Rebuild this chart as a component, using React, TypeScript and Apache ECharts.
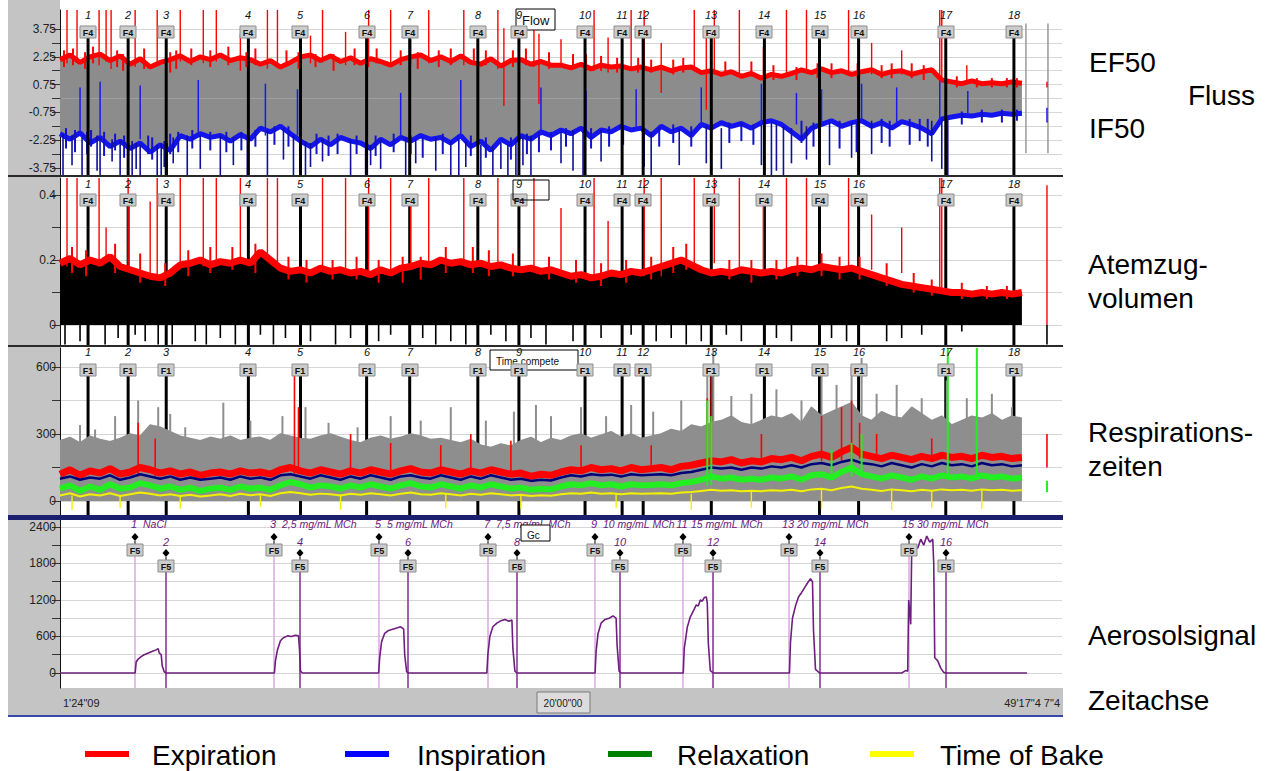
import { useEffect, useRef } from "react";
import * as echarts from "echarts";

const FONT = '"Liberation Sans", Arial, Helvetica, sans-serif';
const SAMPLE_STEP = 10; // one stored value every 10 breath units
const X_MAX = 1000;

// ---------- Fluss: EF50 / IF50 (l/s) ----------
const ef50 = [
  2.1, 2.35, 1.95, 2.25, 2.4, 2.05, 2.3, 1.85, 2.15, 1.7,
  1.95, 2.1, 2.3, 2.0, 2.25, 2.1, 2.35, 2.05, 2.2, 2.1,
  1.85, 2.05, 1.7, 1.95, 2.25, 2.35, 2.05, 2.3, 2.0, 2.2,
  1.9, 2.15, 2.0, 1.8, 2.1, 2.25, 2.35, 2.05, 2.25, 2.0,
  2.3, 1.95, 1.85, 2.15, 1.75, 2.05, 2.1, 1.85, 2.0, 1.8,
  1.8, 1.65, 1.85, 1.6, 1.8, 1.7, 1.75, 1.6, 1.7, 1.55,
  1.7, 1.5, 1.65, 1.7, 1.4, 1.5, 1.3, 1.45, 1.2, 1.35,
  1.1, 1.3, 1.2, 1.35, 1.55, 1.4, 1.6, 1.4, 1.5, 1.3,
  1.45, 1.55, 1.3, 1.45, 1.5, 1.3, 1.45, 1.55, 1.0, 0.9,
  0.8, 0.95, 0.8, 0.85, 0.8, 0.9, 0.82,
];
const if50 = [
  -1.9, -2.2, -1.85, -2.4, -2.1, -2.6, -2.3, -2.7, -2.4, -2.9,
  -2.5, -2.8, -2.0, -2.2, -1.9, -2.1, -2.0, -2.3, -1.95, -2.2,
  -1.6, -1.8, -1.5, -1.9, -2.3, -2.6, -2.2, -2.5, -2.1, -2.3,
  -2.4, -2.7, -2.2, -2.5, -2.1, -2.3, -2.0, -2.2, -2.1, -2.4,
  -2.0, -2.6, -2.3, -2.8, -2.2, -2.5, -2.0, -2.2, -1.8, -2.0,
  -1.7, -1.9, -1.6, -2.1, -1.7, -1.8, -1.5, -1.7, -1.6, -2.0,
  -1.5, -1.8, -1.6, -2.0, -1.4, -1.6, -1.3, -1.5, -1.35, -1.6,
  -1.3, -1.2, -1.4, -1.8, -2.2, -1.6, -1.4, -1.2, -1.5, -1.3,
  -1.2, -1.5, -1.3, -1.6, -1.25, -1.4, -1.6, -1.9, -1.1, -1.0,
  -0.9, -0.95, -0.85, -0.9, -0.8, -0.85, -0.8,
];
// [position, from, to]
const ef50Spikes = [
  [7, 1.9, 4.8], [17, 2.0, 4.8], [39, 1.8, 4.8], [46, 2.0, 4.8], [51, 1.6, 4.8], [68, -0.9, 3.8], [75, 1.7, 4.8],
  [97, 1.8, 4.8], [120, 2.0, 4.8], [143, 1.9, 4.8], [156, 2.0, 4.8], [180, 1.5, 3.5], [207, 1.6, 4.8], [217, 1.8, 4.8],
  [250, 1.9, 3.4], [262, 2.0, 4.8], [285, 1.8, 3.6], [308, 1.7, 4.8], [330, 1.9, 4.8], [350, 1.8, 3.2], [368, 1.9, 4.8],
  [403, 1.8, 4.8], [437, 1.6, 4.8], [443, -0.4, 3.8], [473, 1.7, 4.8], [478, -0.3, 3.5], [500, 1.7, 3.2], [533, 1.5, 4.8],
  [547, 1.4, 3.3], [570, 1.5, 4.8], [583, 1.5, 4.8], [600, 0.3, 3.0], [633, 1.5, 4.8], [645, -0.6, 3.5], [653, 1.3, 4.8],
  [678, 1.2, 4.8], [702, 1.2, 2.8], [725, 1.3, 4.8], [745, 1.4, 4.8], [787, 1.3, 4.8], [810, 1.3, 3.0], [840, 1.3, 2.6],
  [878, 0.9, 4.8], [880, 1.0, 4.8], [905, 0.8, 1.8], [985, 0.6, 0.9],
];
const ef50Flutter = [
  [4, 1.7, 2.6], [13, 1.8, 2.7], [25, 1.6, 2.5], [33, 1.9, 2.8], [57, 1.7, 2.6], [63, 1.5, 2.4], [84, 1.6, 2.7],
  [110, 1.4, 2.5], [116, 1.6, 2.6], [131, 1.8, 2.7], [150, 1.7, 2.6], [168, 1.8, 2.8], [186, 1.7, 2.5], [195, 1.8, 2.7],
  [226, 1.9, 2.6], [238, 1.6, 2.5], [255, 1.7, 2.4], [273, 1.5, 2.4], [294, 1.8, 2.7], [316, 1.9, 2.7], [340, 1.8, 2.6],
  [357, 1.6, 2.5], [378, 1.7, 2.6], [390, 1.8, 2.7], [413, 1.9, 2.7], [425, 1.8, 2.6], [452, 1.7, 2.6], [465, 1.8, 2.7],
  [488, 1.6, 2.5], [512, 1.6, 2.4], [525, 1.5, 2.4], [540, 1.5, 2.3], [556, 1.4, 2.2], [577, 1.4, 2.2], [590, 1.4, 2.1],
  [612, 1.3, 2.1], [622, 1.4, 2.2], [664, 1.3, 2.0], [690, 1.2, 2.0], [712, 1.0, 1.8], [735, 1.0, 1.7], [756, 1.1, 1.9],
  [770, 1.1, 1.9], [796, 1.1, 1.9], [820, 1.1, 1.8], [830, 1.1, 1.9], [850, 1.1, 1.9], [862, 1.0, 1.8], [895, 0.6, 1.2],
  [915, 0.6, 1.1], [930, 0.6, 1.1], [945, 0.6, 1.1], [955, 0.6, 1.1],
];
const if50Dips = [
  [3, -4.2, -1.9], [12, -3.6, -2.0], [22, -4.2, -2.1], [37, -3.9, -2.0], [40, -4.2, -2.1], [52, -3.4, -2.2], [60, -4.2, -2.3],
  [68, -4.2, -2.4], [72, -4.2, -2.3], [76, -3.8, -2.4], [80, -4.2, -2.5], [97, -4.2, -2.5], [101, -4.2, -2.4], [104, -3.7, -2.3],
  [107, -4.2, -2.4], [113, -3.5, -2.1], [127, -4.2, -2.0], [140, -3.8, -2.0], [160, -4.2, -2.0], [173, -3.6, -2.1],
  [187, -4.2, -2.0], [207, -4.2, -1.7], [223, -3.3, -1.6], [233, -4.2, -2.0], [245, -4.2, -2.3], [250, -3.7, -2.4],
  [262, -3.4, -2.2], [290, -4.2, -2.2], [305, -4.2, -2.4], [310, -3.6, -2.5], [320, -3.8, -2.2], [345, -4.2, -2.1],
  [355, -3.5, -2.2], [375, -3.9, -2.1], [390, -4.2, -2.3], [398, -4.2, -2.2], [405, -3.7, -2.3], [420, -4.2, -2.5],
  [432, -4.2, -2.6], [440, -3.8, -2.4], [447, -4.2, -2.5], [455, -4.2, -2.2], [462, -3.6, -2.1], [470, -4.2, -2.0],
  [500, -3.5, -1.8], [512, -3.9, -1.7], [522, -4.2, -1.8], [540, -3.4, -1.7], [583, -3.7, -1.6], [590, -4.2, -1.8],
  [618, -3.6, -1.6], [645, -3.5, -1.5], [650, -4.2, -1.6], [660, -3.8, -1.6], [700, -3.6, -1.4], [710, -4.2, -1.3],
  [715, -3.9, -1.4], [722, -4.2, -1.5], [730, -3.5, -1.6], [745, -3.3, -1.5], [758, -4.2, -1.4], [768, -3.6, -1.3],
  [790, -3.2, -1.3], [810, -3.0, -1.2], [870, -3.4, -1.2], [880, -3.8, -1.1], [886, -4.2, -1.1],
];
const if50Flutter = [
  [6, -2.7, -1.6], [15, -2.9, -1.7], [27, -3.0, -1.8], [31, -2.6, -1.7], [44, -3.1, -1.8], [55, -2.8, -1.9], [64, -3.2, -2.0],
  [88, -3.0, -2.0], [92, -3.3, -2.1], [110, -3.0, -1.9], [118, -2.9, -1.8], [132, -2.7, -1.7], [150, -2.8, -1.8],
  [166, -2.9, -1.8], [181, -2.8, -1.8], [195, -2.6, -1.7], [214, -2.5, -1.5], [228, -2.6, -1.5], [256, -3.0, -1.9],
  [268, -3.1, -2.0], [277, -3.0, -1.9], [296, -3.0, -2.0], [315, -3.1, -2.0], [333, -2.9, -1.9], [350, -3.0, -2.0],
  [362, -3.2, -2.1], [382, -3.0, -1.9], [410, -3.1, -2.0], [425, -3.2, -2.1], [450, -3.3, -2.1], [466, -3.0, -1.9],
  [478, -2.9, -1.8], [490, -2.8, -1.8], [505, -2.6, -1.6], [530, -2.7, -1.6], [548, -2.6, -1.5], [562, -2.5, -1.5],
  [598, -2.6, -1.5], [612, -2.4, -1.4], [630, -2.6, -1.5], [668, -2.4, -1.3], [680, -2.3, -1.3], [692, -2.5, -1.4],
  [740, -2.4, -1.2], [752, -2.6, -1.3], [778, -2.7, -1.2], [795, -2.9, -1.2], [820, -2.4, -1.1], [828, -2.6, -1.2],
  [848, -2.5, -1.1], [858, -2.3, -1.1], [866, -2.6, -1.1], [900, -1.4, -0.7], [920, -1.3, -0.6], [940, -1.3, -0.6],
  [955, -1.2, -0.6],
];
const if50Peaks = [
  [20, -2.0, 0.6], [40, -2.0, 0.9], [80, -2.2, 0.7], [138, -2.0, 1.0], [205, -2.0, 0.8], [237, -2.0, 0.5],
  [340, -2.0, 0.3], [400, -2.0, 1.0], [480, -2.0, 0.6], [525, -1.8, 0.4], [575, -1.7, 0.5], [640, -1.6, 0.6],
  [700, -1.5, 0.8], [735, -1.4, 0.3], [760, -1.4, 0.5], [800, -1.3, 0.8], [835, -1.3, 0.6], [878, -1.2, 1.0],
  [906, -1.0, 0.4], [985, -1.3, -0.5],
];
const flowCursors = [[964, -2.95, 4.05], [986, -2.95, 4.05]];

// ---------- Atemzugvolumen (l) ----------
const tidalVolume = [
  0.19, 0.205, 0.185, 0.2, 0.19, 0.21, 0.18, 0.17, 0.16, 0.15,
  0.145, 0.16, 0.185, 0.19, 0.2, 0.185, 0.195, 0.19, 0.2, 0.19,
  0.225, 0.2, 0.175, 0.165, 0.17, 0.16, 0.175, 0.165, 0.17, 0.16,
  0.165, 0.155, 0.17, 0.16, 0.175, 0.18, 0.19, 0.185, 0.2, 0.19,
  0.195, 0.185, 0.19, 0.18, 0.185, 0.175, 0.17, 0.175, 0.165, 0.17,
  0.16, 0.15, 0.155, 0.145, 0.15, 0.16, 0.155, 0.165, 0.16, 0.17,
  0.18, 0.19, 0.2, 0.185, 0.17, 0.16, 0.165, 0.16, 0.17, 0.165,
  0.16, 0.165, 0.16, 0.17, 0.175, 0.17, 0.18, 0.175, 0.17, 0.175,
  0.165, 0.155, 0.145, 0.135, 0.125, 0.12, 0.115, 0.11, 0.105, 0.1,
  0.1, 0.095, 0.1, 0.095, 0.1, 0.095, 0.1,
];
const tidalSpikes = [
  [7, 0.18, 0.46], [17, 0.19, 0.46], [39, 0.18, 0.46], [46, 0.19, 0.3], [68, 0.17, 0.46], [90, 0.15, 0.38],
  [97, 0.15, 0.46], [120, 0.18, 0.46], [143, 0.18, 0.46], [156, 0.19, 0.46], [180, 0.19, 0.46], [207, 0.2, 0.46],
  [217, 0.19, 0.46], [262, 0.17, 0.46], [285, 0.16, 0.46], [308, 0.16, 0.46], [330, 0.16, 0.46], [350, 0.17, 0.38],
  [368, 0.18, 0.46], [403, 0.19, 0.46], [437, 0.19, 0.46], [473, 0.17, 0.46], [500, 0.17, 0.36], [533, 0.15, 0.46],
  [547, 0.15, 0.32], [583, 0.15, 0.46], [600, 0.15, 0.46], [633, 0.18, 0.46], [653, 0.19, 0.46], [678, 0.17, 0.46],
  [702, 0.16, 0.38], [725, 0.16, 0.46], [745, 0.17, 0.46], [787, 0.17, 0.46], [810, 0.17, 0.34], [840, 0.16, 0.3],
  [878, 0.11, 0.46], [880, 0.11, 0.46], [985, 0.0, 0.43],
];
const tidalFlutter = [
  [12, 0.16, 0.24], [26, 0.15, 0.23], [55, 0.16, 0.25], [80, 0.13, 0.22], [105, 0.12, 0.19], [128, 0.15, 0.23],
  [150, 0.16, 0.24], [172, 0.17, 0.24], [195, 0.16, 0.25], [228, 0.14, 0.21], [246, 0.13, 0.2], [272, 0.14, 0.2],
  [296, 0.14, 0.21], [318, 0.13, 0.2], [342, 0.13, 0.21], [360, 0.14, 0.21], [385, 0.16, 0.24], [412, 0.16, 0.24],
  [428, 0.15, 0.23], [452, 0.15, 0.22], [488, 0.14, 0.21], [515, 0.13, 0.2], [540, 0.12, 0.19], [565, 0.13, 0.2],
  [590, 0.14, 0.21], [612, 0.16, 0.24], [625, 0.17, 0.25], [668, 0.14, 0.2], [690, 0.13, 0.2], [715, 0.14, 0.2],
  [736, 0.15, 0.21], [760, 0.15, 0.22], [778, 0.14, 0.21], [798, 0.14, 0.21], [825, 0.12, 0.19], [852, 0.1, 0.16],
  [870, 0.09, 0.14], [900, 0.08, 0.13], [925, 0.08, 0.12], [945, 0.08, 0.12],
];
const tidalDips = [
  [5, -0.06, 0], [20, -0.05, 0], [28, -0.06, 0], [45, -0.06, 0], [58, -0.04, 0], [75, -0.03, 0], [85, -0.05, 0],
  [98, -0.06, 0], [112, -0.06, 0], [135, -0.05, 0], [146, -0.06, 0], [160, -0.04, 0], [175, -0.06, 0], [200, -0.03, 0],
  [213, -0.06, 0], [225, -0.04, 0], [250, -0.05, 0], [275, -0.06, 0], [290, -0.04, 0], [318, -0.05, 0], [330, -0.03, 0],
  [362, -0.04, 0], [375, -0.06, 0], [390, -0.05, 0], [405, -0.06, 0], [430, -0.03, 0], [445, -0.05, 0], [470, -0.04, 0],
  [485, -0.06, 0], [512, -0.05, 0], [540, -0.04, 0], [570, -0.03, 0], [595, -0.05, 0], [610, -0.04, 0], [625, -0.06, 0],
  [640, -0.05, 0], [665, -0.03, 0], [680, -0.05, 0], [715, -0.04, 0], [730, -0.05, 0], [770, -0.04, 0], [785, -0.05, 0],
  [825, -0.05, 0], [840, -0.04, 0], [860, -0.03, 0], [900, -0.02, 0], [985, -0.06, 0],
];

// ---------- Respirationszeiten (ms) ----------
const totalTime = [
  270, 285, 260, 290, 275, 265, 280, 300, 290, 340,
  330, 310, 290, 280, 270, 285, 275, 290, 270, 280,
  285, 270, 300, 290, 280, 275, 290, 300, 285, 270,
  260, 280, 290, 275, 285, 300, 290, 275, 280, 270,
  260, 275, 250, 240, 255, 245, 270, 285, 260, 280,
  270, 290, 300, 280, 295, 310, 285, 300, 280, 290,
  300, 320, 310, 340, 330, 350, 360, 380, 350, 340,
  360, 380, 370, 390, 350, 420, 380, 400, 420, 440,
  380, 360, 400, 380, 370, 420, 390, 360, 380, 340,
  360, 380, 370, 390, 360, 380, 370,
];
const expirationTime = [
  120, 140, 115, 135, 125, 145, 120, 130, 150, 140,
  125, 135, 120, 130, 115, 125, 130, 120, 135, 125,
  130, 120, 140, 150, 135, 125, 140, 130, 120, 135,
  125, 140, 130, 120, 135, 145, 130, 125, 140, 130,
  120, 135, 125, 140, 130, 120, 125, 110, 120, 115,
  130, 140, 135, 150, 140, 145, 135, 150, 140, 145,
  150, 140, 155, 160, 170, 180, 175, 185, 170, 180,
  175, 190, 185, 195, 180, 200, 210, 195, 220, 240,
  210, 200, 190, 205, 195, 185, 200, 190, 205, 195,
  200, 190, 205, 195, 200, 190, 195,
];
const inspirationTime = [
  100, 110, 95, 105, 100, 115, 95, 105, 120, 110,
  100, 110, 95, 105, 95, 100, 105, 95, 110, 100,
  105, 95, 115, 120, 110, 100, 115, 105, 95, 110,
  100, 115, 105, 95, 110, 115, 105, 100, 115, 105,
  95, 110, 100, 115, 105, 95, 100, 90, 95, 92,
  105, 115, 110, 120, 115, 118, 110, 120, 115, 118,
  120, 115, 125, 130, 140, 150, 145, 150, 140, 150,
  145, 155, 150, 160, 150, 165, 170, 160, 175, 185,
  170, 165, 155, 170, 160, 150, 165, 155, 170, 160,
  165, 155, 170, 160, 165, 155, 160,
];
const relaxationTime = [
  55, 70, 45, 65, 50, 75, 55, 60, 80, 70,
  55, 65, 50, 60, 45, 55, 60, 50, 65, 55,
  60, 50, 70, 85, 75, 60, 70, 65, 55, 70,
  60, 75, 65, 55, 70, 80, 65, 60, 75, 65,
  55, 70, 60, 75, 65, 55, 60, 50, 55, 52,
  65, 75, 70, 80, 70, 75, 65, 75, 70, 72,
  75, 70, 80, 85, 95, 110, 100, 105, 95, 100,
  95, 105, 100, 110, 95, 115, 120, 105, 130, 150,
  120, 110, 100, 115, 105, 95, 110, 100, 115, 105,
  110, 100, 115, 105, 110, 100, 105,
];
const bakeTime = [
  25, 35, 20, 30, 25, 35, 22, 30, 38, 32,
  25, 30, 22, 28, 20, 25, 30, 22, 32, 26,
  30, 22, 35, 40, 35, 28, 33, 30, 25, 32,
  28, 35, 30, 25, 32, 38, 30, 28, 35, 30,
  25, 32, 28, 35, 30, 25, 28, 22, 26, 24,
  30, 35, 32, 38, 32, 35, 30, 35, 32, 34,
  35, 32, 38, 40, 45, 50, 46, 48, 44, 46,
  44, 48, 46, 50, 44, 52, 55, 48, 58, 65,
  55, 50, 45, 52, 48, 44, 50, 46, 52, 48,
  50, 46, 52, 48, 50, 46, 48,
];
const totalSpikes = [
  [20, 0, 340], [35, 0, 320], [55, 0, 380], [78, 0, 450], [98, 0, 420], [110, 0, 390], [125, 0, 330], [163, 0, 440],
  [190, 0, 360], [222, 0, 380], [245, 0, 420], [268, 0, 350], [297, 0, 330], [330, 0, 380], [360, 0, 360], [390, 0, 420],
  [425, 0, 360], [453, 0, 400], [475, 0, 430], [490, 0, 380], [520, 0, 420], [545, 0, 380], [570, 0, 430], [592, 0, 400],
  [620, 0, 450], [646, 0, 600], [652, 0, 690], [670, 0, 470], [690, 0, 480], [715, 0, 500], [740, 0, 450], [760, 0, 560],
  [775, 0, 520], [790, 0, 600], [800, 0, 640], [815, 0, 480], [835, 0, 520], [860, 0, 460], [885, 0, 540], [905, 0, 460],
  [930, 0, 480], [950, 0, 420],
];
const expirationSpikes = [
  [78, 110, 350], [95, 110, 280], [234, 120, 600], [238, 120, 420], [290, 120, 300], [330, 120, 260], [380, 120, 250],
  [410, 120, 300], [450, 110, 270], [520, 120, 250], [590, 130, 250], [646, 150, 460], [650, 150, 600], [700, 170, 300],
  [760, 180, 380], [780, 180, 420], [790, 190, 450], [798, 190, 350], [815, 180, 300], [870, 180, 280], [985, 150, 300],
];
const relaxationSpikes = [
  [646, 70, 450], [650, 70, 380], [770, 100, 230], [790, 110, 260], [800, 110, 300], [886, 100, 690], [915, 100, 690],
  [985, 40, 90],
];
const bakeSpikes = [
  [12, -40, 25], [60, -30, 22], [120, -35, 25], [200, -25, 26], [280, -40, 30], [385, -30, 30], [460, -35, 28],
  [555, -30, 32], [630, -40, 32], [690, -30, 44], [760, -35, 52], [830, -40, 50], [870, -30, 46], [920, -35, 50],
];

// ---------- Aerosolsignal ----------
const aerosolT = [
  0, 75, 76, 78, 81, 84, 87, 90, 93, 96, 98, 99, 101, 102, 104, 106,
  214, 215, 217, 220, 223, 227, 231, 235, 238, 239, 240, 242,
  318, 319, 321, 324, 328, 332, 336, 340, 343, 344, 346, 348,
  426, 427, 429, 432, 436, 440, 444, 448, 451, 452, 454, 456,
  534, 535, 537, 540, 544, 548, 552, 555, 556, 558, 560,
  622, 623, 626, 629, 633, 635, 637, 639, 641, 643, 645, 646, 647, 649, 652,
  728, 729, 731, 734, 737, 740, 743, 746, 749, 751, 752, 754, 758,
  840, 844, 846, 847, 849, 850, 853, 856, 859, 862, 865, 868, 871, 872, 873, 876, 879, 882, 884,
  965,
];
const aerosolV = [
  0, 0, 180, 230, 270, 300, 320, 340, 360, 380, 400, 330, 300, 120, 20, 0,
  0, 200, 380, 530, 580, 610, 600, 620, 610, 400, 30, 0,
  0, 250, 520, 650, 700, 720, 740, 760, 720, 300, 20, 0,
  0, 300, 600, 760, 820, 860, 880, 850, 870, 400, 30, 0,
  0, 350, 650, 820, 880, 900, 940, 900, 450, 30, 0,
  0, 400, 750, 920, 1050, 1120, 1100, 1200, 1180, 1240, 1250, 1150, 500, 40, 0,
  0, 500, 900, 1100, 1250, 1320, 1400, 1480, 1550, 1500, 700, 60, 0,
  0, 40, 30, 1200, 800, 2000, 2100, 2050, 2200, 2100, 2250, 2150, 2200, 1800, 250, 200, 80, 10, 0,
  0,
];

// ---------- Ereignismarken ----------
const breathMarkers = [28, 68, 106, 188, 240, 306, 349, 417, 458, 524, 561, 582, 650, 703, 758, 797, 884, 952];
const aerosolMarkers = [75, 106, 214, 240, 318, 347, 427, 456, 534, 559, 622, 652, 728, 758, 847, 884];
const doses = ["NaCl", "2,5 mg/mL MCh", "5 mg/mL MCh", "7,5 mg/mL MCh", "10 mg/mL MCh", "15 mg/mL MCh", "20 mg/mL MCh", "30 mg/mL MCh"];

// ---------- Achsen ----------
const flowTicks = [-3.75, -3, -2.25, -1.5, -0.75, 0, 0.75, 1.5, 2.25, 3, 3.75];
const flowLabels = [-3.75, -2.25, -0.75, 0.75, 2.25, 3.75];
const volumeTicks = [0, 0.1, 0.2, 0.3, 0.4];
const volumeLabels = [0, 0.2, 0.4];
const timeTicks = [0, 150, 300, 450, 600];
const timeLabels = [0, 300, 600];
const aerosolTicks = [0, 300, 600, 900, 1200, 1500, 1800, 2100, 2400];
const aerosolLabels = [0, 600, 1200, 1800, 2400];

const legendItems = [
  { name: "Expiration", color: "#ff0000" },
  { name: "Inspiration", color: "#0000ff" },
  { name: "Relaxation", color: "#008000" },
  { name: "Time of Bake", color: "#ffff00" },
];

const toXY = (values: number[]) => values.map((v, i) => [i * SAMPLE_STEP, v]);

const lineSeries = (name: string, values: number[], grid: number, color: string, width: number, z: number, area?: string) => ({
  type: "line",
  name,
  xAxisIndex: grid,
  yAxisIndex: grid,
  data: toXY(values),
  symbol: "none",
  showSymbol: false,
  silent: true,
  z,
  lineStyle: { color, width },
  itemStyle: { color },
  areaStyle: area ? { color: area, opacity: 1 } : undefined,
});

const spikeSeries = (data: number[][], grid: number, color: string, width: number, z: number) => ({
  type: "custom",
  xAxisIndex: grid,
  yAxisIndex: grid,
  data,
  encode: { x: 0, y: [1, 2] },
  silent: true,
  clip: true,
  z,
  renderItem: (_params: any, api: any) => {
    const a = api.coord([api.value(0), api.value(1)]);
    const b = api.coord([api.value(0), api.value(2)]);
    return {
      type: "line",
      shape: { x1: a[0], y1: a[1], x2: b[0], y2: b[1] },
      style: { stroke: color, lineWidth: width },
    };
  },
});

const markerLineSeries = (grid: number, z: number) => ({
  type: "custom",
  xAxisIndex: grid,
  yAxisIndex: grid,
  data: breathMarkers.map((x) => [x, 0]),
  encode: { x: 0, y: 1 },
  silent: true,
  z,
  renderItem: (params: any, api: any) => {
    const cs = params.coordSys;
    const x = api.coord([api.value(0), 0])[0];
    return {
      type: "line",
      shape: { x1: x, y1: cs.y + 28, x2: x, y2: cs.y + cs.height },
      style: { stroke: "#000", lineWidth: 3 },
    };
  },
});

const markerTagSeries = (grid: number, tag: string, numberY: number) => ({
  type: "custom",
  xAxisIndex: grid,
  yAxisIndex: grid,
  data: breathMarkers.map((x) => [x, 0]),
  encode: { x: 0, y: 1 },
  silent: true,
  z: 40,
  renderItem: (params: any, api: any) => {
    const cs = params.coordSys;
    const x = Math.round(api.coord([api.value(0), 0])[0]);
    const n = params.dataIndex + 1;
    return {
      type: "group",
      children: [
        {
          type: "text",
          style: { text: String(n), x, y: cs.y + numberY, align: "center", verticalAlign: "middle", fill: "#111", font: `italic 11px ${FONT}` },
        },
        {
          type: "rect",
          shape: { x: x - 8, y: cs.y + 16, width: 16, height: 12 },
          style: { fill: "#cccccc", stroke: "#8c8c8c", lineWidth: 1 },
        },
        {
          type: "text",
          style: { text: tag, x, y: cs.y + 22.5, align: "center", verticalAlign: "middle", fill: "#111", font: `bold 9px ${FONT}` },
        },
      ],
    };
  },
});

const aerosolMarkerSeries = (part: "line" | "tag") => ({
  type: "custom",
  xAxisIndex: 3,
  yAxisIndex: 3,
  data: aerosolMarkers.map((x) => [x, 0]),
  encode: { x: 0, y: 1 },
  silent: true,
  z: part === "line" ? 3 : 40,
  renderItem: (params: any, api: any) => {
    const cs = params.coordSys;
    const x = Math.round(api.coord([api.value(0), 0])[0]);
    const n = params.dataIndex + 1;
    const odd = n % 2 === 1;
    const dy = odd ? 0 : 16;
    const top = cs.y;
    if (part === "line") {
      return {
        type: "line",
        shape: { x1: x, y1: top + 35 + dy, x2: x, y2: top + cs.height },
        style: { stroke: odd ? "#d9a8e2" : "#7e2c8e", lineWidth: 1.5 },
      };
    }
    const children: any[] = [
      {
        type: "polygon",
        shape: { points: [[x, top + 13 + dy], [x + 3.5, top + 17 + dy], [x, top + 21 + dy], [x - 3.5, top + 17 + dy]] },
        style: { fill: "#000" },
      },
      { type: "line", shape: { x1: x, y1: top + 21 + dy, x2: x, y2: top + 24 + dy }, style: { stroke: "#000", lineWidth: 1 } },
      {
        type: "rect",
        shape: { x: x - 8, y: top + 24 + dy, width: 16, height: 12 },
        style: { fill: "#cccccc", stroke: "#8c8c8c", lineWidth: 1 },
      },
      {
        type: "text",
        style: { text: "F5", x, y: top + 30.5 + dy, align: "center", verticalAlign: "middle", fill: "#111", font: `bold 9px ${FONT}` },
      },
    ];
    if (odd) {
      children.push(
        {
          type: "text",
          style: { text: String(n), x: x - 1, y: top + 4, align: "center", verticalAlign: "middle", fill: "#6a1a7c", font: `italic 11px ${FONT}` },
        },
        {
          type: "text",
          style: { text: doses[(n - 1) / 2], x: x + 8, y: top + 4, align: "left", verticalAlign: "middle", fill: "#6a1a7c", font: `italic 10.5px ${FONT}` },
        },
      );
    } else {
      children.push({
        type: "text",
        style: { text: String(n), x, y: top + 22, align: "center", verticalAlign: "middle", fill: "#6a1a7c", font: `italic 11px ${FONT}` },
      });
    }
    return { type: "group", children };
  },
});

const yAxisFor = (gridIndex: number, min: number, max: number, ticks: number[], labels: number[]) => ({
  type: "value",
  gridIndex,
  min,
  max,
  axisLine: { show: true, lineStyle: { color: "#111", width: 1 } },
  axisTick: { show: true, length: 8, customValues: ticks, lineStyle: { color: "#333" } },
  axisLabel: {
    customValues: labels,
    color: "#222",
    fontSize: 12,
    fontFamily: FONT,
    margin: 4,
    formatter: (v: number) => String(v),
  },
  splitLine: { show: true, lineStyle: { color: "#d6d6d6", width: 1 } },
});

const xAxisFor = (gridIndex: number) => ({ type: "value", gridIndex, min: 0, max: X_MAX, show: false });

const rightLabel = (text: string, x: number, y: number) => ({
  type: "text",
  z: 60,
  style: { text, x, y, align: "left", verticalAlign: "middle", fill: "#000", font: `28px ${FONT}` },
});

const boxNote = (x: number, y: number, w: number, h: number, text: string, size: number, ty: number, z: number) => ({
  type: "group",
  z,
  children: [
    { type: "rect", z, shape: { x, y, width: w, height: h }, style: { fill: "#ffffff", stroke: "#000", lineWidth: 1 } },
    { type: "text", z, style: { text, x: x + 6, y: ty, align: "left", verticalAlign: "middle", fill: "#111", font: `${size}px ${FONT}` } },
  ],
});

function buildOption() {
  const legendX = [85, 345, 608, 870];
  const legendTextX = [152, 417, 677, 940];
  const graphic: any[] = [
    // frame
    { type: "rect", z: -5, shape: { x: 8, y: 0, width: 52, height: 716 }, style: { fill: "#c4c4c4" } },
    { type: "rect", z: -5, shape: { x: 8, y: 688, width: 1055, height: 27 }, style: { fill: "#c4c4c4" } },
    { type: "rect", z: 55, shape: { x: 8, y: 175, width: 1055, height: 2 }, style: { fill: "#2a2a2a" } },
    { type: "rect", z: 55, shape: { x: 8, y: 345, width: 1055, height: 2 }, style: { fill: "#2a2a2a" } },
    { type: "rect", z: 55, shape: { x: 8, y: 515, width: 1055, height: 5 }, style: { fill: "#1b1f6e" } },
    { type: "rect", z: 55, shape: { x: 8, y: 715, width: 1055, height: 2 }, style: { fill: "#3848a8" } },
    // time axis
    { type: "text", z: 60, style: { text: "1'24\"09", x: 63, y: 703, align: "left", verticalAlign: "middle", fill: "#222", font: `11px ${FONT}` } },
    { type: "rect", z: 58, shape: { x: 537, y: 692, width: 53, height: 21 }, style: { fill: "#dcdcdc", stroke: "#7a7a7a", lineWidth: 1 } },
    { type: "text", z: 60, style: { text: "20'00\"00", x: 563, y: 703, align: "center", verticalAlign: "middle", fill: "#222", font: `10px ${FONT}` } },
    { type: "text", z: 60, style: { text: "49'17\"4 7\"4", x: 1060, y: 703, align: "right", verticalAlign: "middle", fill: "#222", font: `11px ${FONT}` } },
    // notes
    boxNote(516, 9, 39, 21, "Flow", 13, 20, 35),
    { type: "rect", z: 50, shape: { x: 513, y: 180, width: 36, height: 20 }, style: { fill: "none", stroke: "#000", lineWidth: 1 } },
    boxNote(490, 350, 88, 20, "Time compete", 10, 361.5, 35),
    boxNote(521, 525, 29, 16, "Gc", 10, 535, 50),
    // right-hand captions
    rightLabel("EF50", 1089, 62),
    rightLabel("Fluss", 1188, 95),
    rightLabel("IF50", 1089, 128),
    rightLabel("Atemzug-", 1088, 264),
    rightLabel("volumen", 1088, 298),
    rightLabel("Respirations-", 1088, 432),
    rightLabel("zeiten", 1088, 466),
    rightLabel("Aerosolsignal", 1088, 635),
    rightLabel("Zeitachse", 1088, 700),
  ];
  legendItems.forEach((item, i) => {
    graphic.push(
      { type: "rect", z: 60, shape: { x: legendX[i], y: 751, width: 44, height: 6 }, style: { fill: item.color } },
      { type: "text", z: 60, style: { text: item.name, x: legendTextX[i], y: 755, align: "left", verticalAlign: "middle", fill: "#000", font: `28px ${FONT}` } },
    );
  });

  return {
    animation: false,
    backgroundColor: "#ffffff",
    grid: [
      { left: 60, top: 10, width: 1002, height: 165 },
      { left: 60, top: 178, width: 1002, height: 167 },
      { left: 60, top: 348, width: 1002, height: 167 },
      { left: 60, top: 520, width: 1002, height: 168 },
    ],
    xAxis: [xAxisFor(0), xAxisFor(1), xAxisFor(2), xAxisFor(3)],
    yAxis: [
      yAxisFor(0, -4.13, 4.78, flowTicks, flowLabels),
      yAxisFor(1, -0.0615, 0.4523, volumeTicks, volumeLabels),
      yAxisFor(2, -62.7, 685, timeTicks, timeLabels),
      yAxisFor(3, -246.6, 2515, aerosolTicks, aerosolLabels),
    ],
    graphic,
    series: [
      // Fluss
      lineSeries("EF50", ef50, 0, "#ff0000", 5, 6, "#8c8c8c"),
      lineSeries("IF50", if50, 0, "#1414ee", 5, 6, "#8c8c8c"),
      spikeSeries(flowCursors, 0, "#9a9a9a", 1.5, 3),
      spikeSeries(if50Peaks, 0, "#1a1ae6", 1.5, 7),
      spikeSeries(if50Dips, 0, "#10109a", 1.6, 7),
      spikeSeries(if50Flutter, 0, "#1212c8", 2, 7),
      spikeSeries(ef50Flutter, 0, "#ff0000", 2, 8),
      spikeSeries(ef50Spikes, 0, "#ff0000", 1.4, 8),
      markerLineSeries(0, 30),
      markerTagSeries(0, "F4", 5),
      // Atemzugvolumen: black fill below the red tidal-volume trace
      markerLineSeries(1, 1),
      spikeSeries(tidalDips, 1, "#000", 1.6, 4),
      lineSeries("Atemzugvolumen", tidalVolume, 1, "#ff0000", 7, 6, "#000000"),
      spikeSeries(tidalFlutter, 1, "#ff0000", 2, 7),
      spikeSeries(tidalSpikes, 1, "#ff0000", 1.4, 7),
      markerTagSeries(1, "F4", 6),
      // Respirationszeiten
      markerLineSeries(2, 1),
      lineSeries("Time complete", totalTime, 2, "#8e8e8e", 1.5, 3, "#8e8e8e"),
      spikeSeries(totalSpikes, 2, "#8e8e8e", 2, 3),
      lineSeries("Expiration", expirationTime, 2, "#ff0000", 7, 5),
      spikeSeries(expirationSpikes, 2, "#ff0000", 1.6, 5),
      lineSeries("Inspiration", inspirationTime, 2, "#00007a", 2.5, 6),
      lineSeries("Relaxation", relaxationTime, 2, "#22ee22", 6, 7),
      spikeSeries(relaxationSpikes, 2, "#22ee22", 2, 7),
      lineSeries("Time of Bake", bakeTime, 2, "#f2f200", 2, 8),
      spikeSeries(bakeSpikes, 2, "#f2f200", 1.4, 8),
      markerTagSeries(2, "F1", 4),
      // Aerosolsignal
      aerosolMarkerSeries("line"),
      {
        type: "line",
        name: "Aerosolsignal",
        xAxisIndex: 3,
        yAxisIndex: 3,
        data: aerosolT.map((t, i) => [t, aerosolV[i]]),
        symbol: "none",
        silent: true,
        z: 6,
        lineStyle: { color: "#6e1e7e", width: 1.6 },
      },
      aerosolMarkerSeries("tag"),
    ],
  };
}

export default function App() {
  const ref = useRef<HTMLDivElement>(null);
  useEffect(() => {
    if (!ref.current) return;
    const chart = echarts.init(ref.current, null, { renderer: "svg" });
    chart.setOption(buildOption() as any);
    return () => chart.dispose();
  }, []);
  return <div ref={ref} style={{ position: "absolute", left: 0, top: 0, width: 1279, height: 771 }} />;
}
